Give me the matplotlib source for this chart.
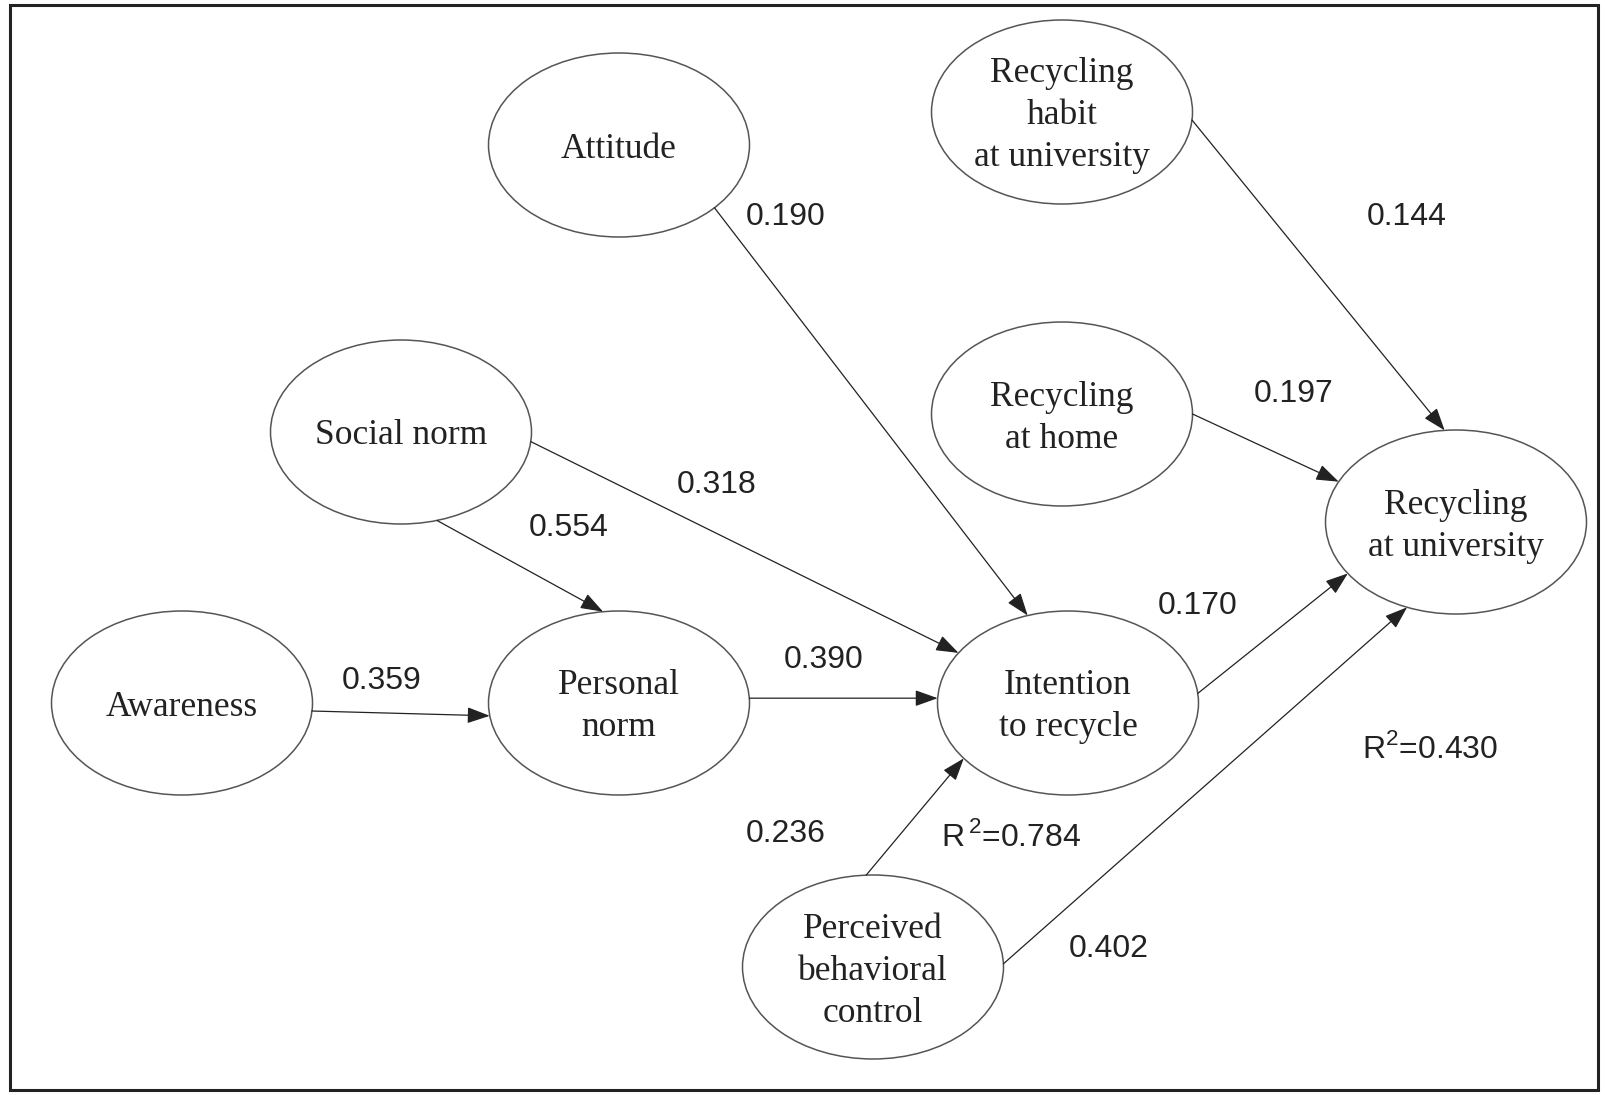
"""Path model for recycling intention / behaviour at university."""

import numpy as np
import matplotlib
matplotlib.use("Agg")
import matplotlib.pyplot as plt
from matplotlib.patches import Ellipse, FancyArrowPatch, Rectangle, ArrowStyle

W, H = 1605, 1095

# nodes (centre in pixel space, y down)
node_keys = ["att", "habit", "social", "home", "uni", "aware", "pers", "intent", "pbc"]
node_labels = [
    "Attitude",
    "Recycling\nhabit\nat university",
    "Social norm",
    "Recycling\nat home",
    "Recycling\nat university",
    "Awareness",
    "Personal\nnorm",
    "Intention\nto recycle",
    "Perceived\nbehavioral\ncontrol",
]
node_x = [619, 1062, 401, 1062, 1456, 182, 619, 1068, 873]
node_y = [145, 112, 432, 414, 522, 703, 703, 703, 967]
node_w, node_h = 261, 184

# paths: source, target, anchor angle on source / target ellipse (deg, y down)
edge_src = ["aware", "social", "social", "att", "pers", "pbc", "pbc", "intent", "home", "habit"]
edge_dst = ["pers", "pers", "intent", "intent", "intent", "intent", "uni", "uni", "uni", "uni"]
edge_a_src = [5, 74, 6, 43, -3, 267, -2, -6, 0, 5]
edge_a_dst = [172, 263, 213, 252, 183, 143, 112, 146, 206, 265]

# path coefficients and R-squared labels
coef_text = ["0.190", "0.144", "0.197", "0.318", "0.554", "0.170",
             "0.359", "0.390", "0.236", "0.402"]
coef_x = [786, 1407, 1294, 717, 569, 1198, 382, 824, 786, 1109]
coef_y = [217, 217, 394, 485, 528, 606, 681, 660, 834, 949]

r2_text = [r"$\mathrm{R}^{\,\mathrm{2}}$=0.784", r"$\mathrm{R}^{\mathrm{2}}$=0.430"]
r2_x = [1011, 1430]
r2_y = [837, 749]

plt.rcParams["mathtext.fontset"] = "custom"
plt.rcParams["mathtext.rm"] = "Liberation Sans"


def anchor(key, deg):
    i = node_keys.index(key)
    t = np.deg2rad(deg)
    return (node_x[i] + node_w / 2 * np.cos(t), node_y[i] + node_h / 2 * np.sin(t))


def main():
    fig = plt.figure(figsize=(W / 100, H / 100), dpi=100)
    ax = fig.add_axes([0, 0, 1, 1])
    ax.set_xlim(0, W)
    ax.set_ylim(H, 0)
    ax.axis("off")

    ax.add_patch(Rectangle((10, 5), 1588, 1085, fill=False, ec="#222222", lw=2.2))

    for x, y, lab in zip(node_x, node_y, node_labels):
        ax.add_patch(Ellipse((x, y), node_w, node_h, fill=False, ec="#555555", lw=1.1))
        ax.text(x, y + 4, lab, ha="center", va="center", fontsize=25.5,
                family="Liberation Serif", color="#222222", linespacing=1.36)

    head = ArrowStyle("-|>", head_length=14, head_width=5)
    for s, d, a1, a2 in zip(edge_src, edge_dst, edge_a_src, edge_a_dst):
        p1 = anchor(s, a1)
        p2 = anchor(d, a2)
        ax.add_patch(FancyArrowPatch(p1, p2, arrowstyle=head, mutation_scale=1,
                                     shrinkA=0, shrinkB=0, color="#222222", lw=0.9))

    for x, y, t in zip(coef_x, coef_y, coef_text):
        ax.text(x, y, t, ha="center", va="center", fontsize=23,
                family="Liberation Sans", color="#222222")
    for x, y, t in zip(r2_x, r2_y, r2_text):
        ax.text(x, y, t, ha="center", va="center", fontsize=23,
                family="Liberation Sans", color="#222222")

    fig.savefig("out.png", dpi=100)
    plt.close(fig)


if __name__ == "__main__":
    main()
